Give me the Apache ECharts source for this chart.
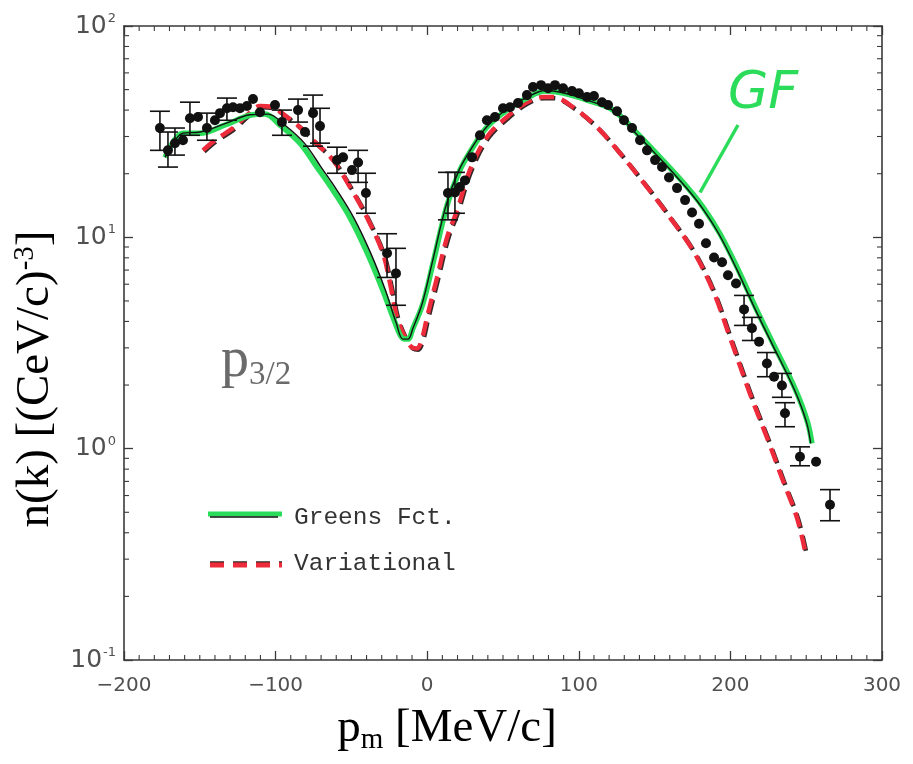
<!DOCTYPE html>
<html>
<head>
<meta charset="utf-8">
<script src="https://cdn.jsdelivr.net/npm/echarts@6/dist/echarts.min.js"></script>
<style>
  html, body { margin: 0; padding: 0; background: #ffffff; }
  #chart { width: 913px; height: 764px; }
</style>
</head>
<body>
<div id="chart"></div>
<script>
// Momentum distribution n(k) of the p3/2 shell vs missing momentum p_m (MeV/c)

// Measured points [p_m, n(k)]
const measured = [
  [-176.3,32.9],[-171.0,25.8],[-166.4,27.9],[-161.1,28.8],[-156.5,36.6],[-151.2,37.1],
  [-145.3,32.9],[-140.0,35.8],[-136.7,38.7],[-132.1,40.8],[-128.1,41.3],[-123.5,40.8],
  [-118.9,41.8],[-114.9,45.1],[-110.3,39.1],[-100.4,42.3],[-95.8,35.1],[-85.2,40.0],
  [-80.6,31.5],[-75.3,38.7],[-70.7,33.6],[-59.5,23.2],[-55.5,23.9],[-49.6,20.8],
  [-45.6,22.6],[-40.4,16.2],[-26.5,8.40],[-20.6,6.75],
  [13.7,16.2],[18.3,16.3],[21.6,17.3],[24.9,18.6],[29.6,23.9],[34.8,30.4],[39.4,35.8],
  [44.7,37.1],[50.0,40.8],[54.6,41.3],[59.9,43.2],[65.8,47.1],[69.8,51.4],[75.1,52.5],
  [79.7,50.8],[84.3,52.5],[89.6,50.8],[95.5,49.2],[100.1,48.1],[105.4,46.1],[110.0,46.6],
  [115.3,43.6],[119.3,42.3],[125.2,39.5],[129.8,35.8],[135.1,32.9],[140.4,28.8],[145.0,25.8],
  [150.3,23.2],[154.9,21.5],[159.5,19.2],[164.8,17.1],[170.1,15.0],[174.7,13.1],[179.3,11.6],
  [183.9,9.37],[189.2,8.03],[194.5,7.62],[198.4,6.61],[203.7,6.05],[209.0,4.56],[214.2,3.71],
  [218.9,3.21],[224.1,2.53],[228.8,2.19],[234.0,1.99],[236.0,1.47],[245.9,0.916],
  [256.5,0.867],[265.7,0.543]
];

// Error bars [p_m, low, high]
const errorBars = [
  [-176.3,25.8,39.5],[-171.0,21.5,31.5],[-166.4,24.5,32.9],[-156.5,30.4,43.6],
  [-145.3,28.8,38.7],[-132.1,35.8,45.6],[-95.8,30.4,40.0],[-85.2,35.1,45.1],
  [-75.3,27.0,47.1],[-70.7,27.9,40.8],[-59.5,20.1,26.7],[-45.6,18.2,25.8],
  [-40.4,13.0,20.1],[-26.5,6.46,10.4],[-20.6,4.77,8.87],[13.7,12.1,20.3],
  [18.3,13.0,20.3],[209.0,3.83,5.31],[214.2,3.25,4.18],[224.1,2.19,2.85],
  [234.0,1.75,2.27],[236.0,1.27,1.65],[245.9,0.83,1.02],[265.7,0.456,0.640]
];

// Green's function calculation (hand-traced highlight)
const greensHighlight = [
  [-172.9,23.9],[-161.1,31.1],[-149.9,31.1],[-133.4,34.0],[-116.9,37.8],[-107,38.3],
  [-97.1,34.0],[-83.9,27.9],[-72.7,21.5],[-62.1,16.7],[-50.9,12.4],[-39.7,8.49],
  [-29.2,5.61],[-21.2,3.95],[-16.0,3.32],[-12.7,3.30],[-9.4,3.71],[-2.8,4.86],
  [3.8,7.53],[13.1,14.2],[21.6,20.8],[30.2,26.7],[39.4,33.2],[52.6,40.0],[65.8,45.6],
  [77.7,49.2],[89.6,48.1],[105.4,44.6],[122.6,40.0],[138.4,31.1],[153.6,23.9],
  [171.4,17.3],[181.9,13.9],[193.1,10.4],[204.4,7.21],[217.5,4.51],[228.1,3.15],
  [239.3,2.17],[245.9,1.69],[251.2,1.31],[253.8,1.06]
];

// Green's function calculation (original thin curve)
const greensFct = [
  [-172.9,23.9],[-161.1,31.1],[-149.9,31.5],[-133.4,34.5],[-116.9,38.0],[-105,38.3],
  [-94,34.0],[-81,27.9],[-70,21.5],[-59.5,16.7],[-48.5,12.4],[-37.5,8.49],
  [-27.5,5.61],[-20.5,3.95],[-16.0,3.30],[-12.7,3.30],[-9.4,3.71],[-3.3,4.86],
  [3.2,7.53],[12.5,14.2],[21.0,20.8],[29.7,26.7],[39.0,33.2],[52.6,40.5],[65.8,46.0],
  [77.7,49.5],[89.6,48.3],[105.4,44.6],[122.0,40.0],[137.5,31.1],[152.8,23.9],
  [170.5,17.3],[181.0,13.9],[192.3,10.4],[203.6,7.21],[216.7,4.51],[227.3,3.15],
  [238.5,2.17],[245.2,1.69],[250.5,1.31],[253.0,1.06]
];

// Variational calculation
const variational = [
  [-147.9,25.8],[-140,28.8],[-128.1,32.9],[-118.9,37.8],[-110.3,41.8],[-102.4,41.3],
  [-92.5,37.1],[-83.9,33.2],[-75.3,28.8],[-62.1,23.2],[-50.9,17.3],[-39.7,12.4],
  [-29.2,8.40],[-24.5,6.05],[-19.9,4.18],[-14.6,3.36],[-10.0,3.01],[-6.7,2.98],
  [-3.4,3.32],[-0.1,4.18],[6.5,6.46],[13.1,10.0],[19.7,13.4],[28.2,20.8],[39.4,29.8],
  [52.6,37.1],[65.8,43.6],[76.4,46.1],[83.0,46.1],[96.2,41.3],[112.0,33.2],[127.2,25.0],
  [145.0,17.3],[160.2,12.4],[175.3,8.67],[188.5,5.61],[199.7,3.36],[212.9,1.82],
  [224.1,1.13],[234.7,0.705],[243.9,0.471],[249.2,0.329]
];

// Pointer from the "GF" note to the curve [p_m, n(k)]
const gfPointer = [[205.0, 34.0], [180.0, 16.3]];

// Axis settings
const xTicks = { min: -200, max: 300, step: 100, minorStep: 10 };
const yDecades = { min: 0.1, max: 100 };
const yMinorTicks = [
  0.2,0.3,0.4,0.5,0.6,0.7,0.8,0.9,
  2,3,4,5,6,7,8,9,
  20,30,40,50,60,70,80,90
];
const xMinorTicks = [];
for (let v = xTicks.min + xTicks.minorStep; v < xTicks.max; v += xTicks.minorStep) {
  if (v % xTicks.step !== 0) xMinorTicks.push(v);
}

const AX = '#3a3a3a';
const GREEN = '#2bdc5a';
const RED = '#ee2b3b';
const chart = echarts.init(document.getElementById('chart'), null, { renderer: 'canvas' });

const minusFmt = v => String(v).replace('-', '\u2212');
const lineAx = { show: true, onZero: false, lineStyle: { color: AX, width: 1.6 } };
const tickAx = { show: true, inside: true, length: 9, lineStyle: { color: AX, width: 1.3 } };

chart.setOption({
  animation: false,
  backgroundColor: '#ffffff',
  grid: { left: 124, right: 31, top: 26, bottom: 104, containLabel: false },
  xAxis: [
    {
      type: 'value', min: xTicks.min, max: xTicks.max, interval: xTicks.step,
      position: 'bottom',
      name: '{p|p}{sub|m}{p| [MeV/c]}',
      nameLocation: 'middle', nameGap: 43,
      nameTextStyle: {
        padding: [0, 112, 0, 0],
        rich: {
          p: { fontFamily: 'Liberation Serif', fontSize: 47, color: '#000', lineHeight: 52 },
          sub: { fontFamily: 'Liberation Serif', fontSize: 29, color: '#000', verticalAlign: 'bottom', lineHeight: 34, padding: [22, 0, 0, 0] }
        }
      },
      axisLine: lineAx, axisTick: tickAx,
      splitLine: { show: false },
      axisLabel: {
        margin: 16, fontFamily: 'DejaVu Sans', fontSize: 20, color: '#505050',
        formatter: minusFmt
      }
    },
    {
      type: 'value', min: xTicks.min, max: xTicks.max, interval: xTicks.step,
      position: 'top',
      axisLine: lineAx, axisTick: tickAx,
      splitLine: { show: false },
      axisLabel: { show: false }
    }
  ],
  yAxis: [
    {
      type: 'log', logBase: 10, min: yDecades.min, max: yDecades.max,
      position: 'left',
      name: 'n(k) [(CeV/c){sup|-3}]',
      nameLocation: 'middle', nameGap: 60, nameRotate: 90,
      nameTextStyle: {
        fontFamily: 'Liberation Serif', fontSize: 47, color: '#000',
        padding: [0, 72, 0, 0],
        rich: {
          sup: { fontFamily: 'Liberation Serif', fontSize: 29, color: '#000', verticalAlign: 'top', padding: [0, 0, 20, 0] }
        }
      },
      axisLine: lineAx, axisTick: tickAx,
      splitLine: { show: false },
      axisLabel: {
        margin: 8,
        formatter: v => '{b|10}{s|' + Math.round(Math.log10(v)) + '}',
        rich: {
          b: { fontFamily: 'DejaVu Sans', fontSize: 25, color: '#505050', lineHeight: 28 },
          s: { fontFamily: 'DejaVu Sans', fontSize: 13, color: '#505050', verticalAlign: 'top', lineHeight: 13, padding: [0, 0, 12, 1] }
        }
      }
    },
    {
      type: 'log', logBase: 10, min: yDecades.min, max: yDecades.max,
      position: 'right',
      axisLine: lineAx, axisTick: tickAx,
      splitLine: { show: false },
      axisLabel: { show: false }
    }
  ],
  series: [
    // logarithmic minor ticks on both vertical axes
    {
      type: 'custom', silent: true, z: 1,
      data: yMinorTicks,
      renderItem: (params, api) => {
        const v = api.value(0);
        const l = api.coord([xTicks.min, v]);
        const r = api.coord([xTicks.max, v]);
        const st = { stroke: AX, lineWidth: 1.1 };
        return {
          type: 'group',
          children: [
            { type: 'line', shape: { x1: l[0], y1: l[1], x2: l[0] + 5, y2: l[1] }, style: st },
            { type: 'line', shape: { x1: r[0], y1: r[1], x2: r[0] - 5, y2: r[1] }, style: st }
          ]
        };
      },
      encode: { y: 0 }
    },
    // minor ticks on the top and bottom axes
    {
      type: 'custom', silent: true, z: 1,
      data: xMinorTicks,
      renderItem: (params, api) => {
        const v = api.value(0);
        const b = api.coord([v, yDecades.min]);
        const t = api.coord([v, yDecades.max]);
        const st = { stroke: AX, lineWidth: 1.1 };
        return {
          type: 'group',
          children: [
            { type: 'line', shape: { x1: b[0], y1: b[1], x2: b[0], y2: b[1] - 5 }, style: st },
            { type: 'line', shape: { x1: t[0], y1: t[1], x2: t[0], y2: t[1] + 5 }, style: st }
          ]
        };
      },
      encode: { x: 0 }
    },
    {
      name: 'Variational', type: 'line', data: variational, smooth: 0.35,
      showSymbol: false, z: 3,
      lineStyle: {
        color: RED, width: 4.5, type: [15, 8],
        shadowColor: 'rgba(20,0,0,0.85)', shadowOffsetX: 1.2, shadowOffsetY: 1.2, shadowBlur: 0
      }
    },
    {
      name: 'Greens Fct.', type: 'line', data: greensHighlight, smooth: 0.35,
      showSymbol: false, z: 4,
      lineStyle: { color: GREEN, width: 5.5 },
      markLine: {
        silent: true, symbol: ['none', 'none'],
        lineStyle: { color: GREEN, width: 3.5, type: 'solid' },
        label: { show: false },
        data: [[{ coord: gfPointer[0] }, { coord: gfPointer[1] }]]
      }
    },
    {
      name: 'Greens Fct. (thin)', type: 'line', data: greensFct, smooth: 0.35,
      showSymbol: false, z: 5,
      lineStyle: { color: '#111', width: 1.4 }
    },
    {
      type: 'custom', z: 6,
      data: errorBars,
      renderItem: (params, api) => {
        const lo = api.coord([api.value(0), api.value(1)]);
        const hi = api.coord([api.value(0), api.value(2)]);
        const w = 10;
        const st = { stroke: '#111', lineWidth: 1.6 };
        return {
          type: 'group',
          children: [
            { type: 'line', shape: { x1: lo[0], y1: lo[1], x2: hi[0], y2: hi[1] }, style: st },
            { type: 'line', shape: { x1: lo[0] - w, y1: lo[1], x2: lo[0] + w, y2: lo[1] }, style: st },
            { type: 'line', shape: { x1: hi[0] - w, y1: hi[1], x2: hi[0] + w, y2: hi[1] }, style: st }
          ]
        };
      },
      encode: { x: 0, y: [1, 2] }
    },
    {
      name: 'data', type: 'scatter', data: measured, z: 7,
      symbol: 'circle', symbolSize: 10,
      itemStyle: { color: '#111', opacity: 1 }
    }
  ],
  graphic: [
    // legend
    { type: 'line', shape: { x1: 208, y1: 514, x2: 282, y2: 514 }, style: { stroke: GREEN, lineWidth: 5 } },
    { type: 'line', shape: { x1: 210, y1: 517, x2: 278, y2: 517 }, style: { stroke: '#111', lineWidth: 1.4 } },
    { type: 'text', left: 294, top: 505, style: { text: 'Greens Fct.', font: '24.5px "Liberation Mono"', fill: '#333' } },
    { type: 'line', shape: { x1: 210, y1: 565, x2: 282, y2: 565 },
      style: { stroke: RED, lineWidth: 5, lineDash: [14, 9], shadowColor: 'rgba(20,0,0,0.85)', shadowOffsetY: -1.2 } },
    { type: 'text', left: 294, top: 551, style: { text: 'Variational', font: '24.5px "Liberation Mono"', fill: '#333' } },
    // shell label
    { type: 'text', left: 221, top: 333, style: {
        text: '{p|p}{s|3/2}',
        rich: {
          p: { fontFamily: 'Liberation Serif', fontSize: 56, fill: '#6a6a6a', lineHeight: 62 },
          s: { fontFamily: 'Liberation Serif', fontSize: 33, fill: '#6a6a6a', verticalAlign: 'bottom', lineHeight: 38 }
        }
      } },
    // handwritten note
    { type: 'text', left: 728, top: 68, style: {
        text: 'GF', font: 'italic 52px "DejaVu Sans"', fill: GREEN
      } }
  ]
});
</script>
</body>
</html>
